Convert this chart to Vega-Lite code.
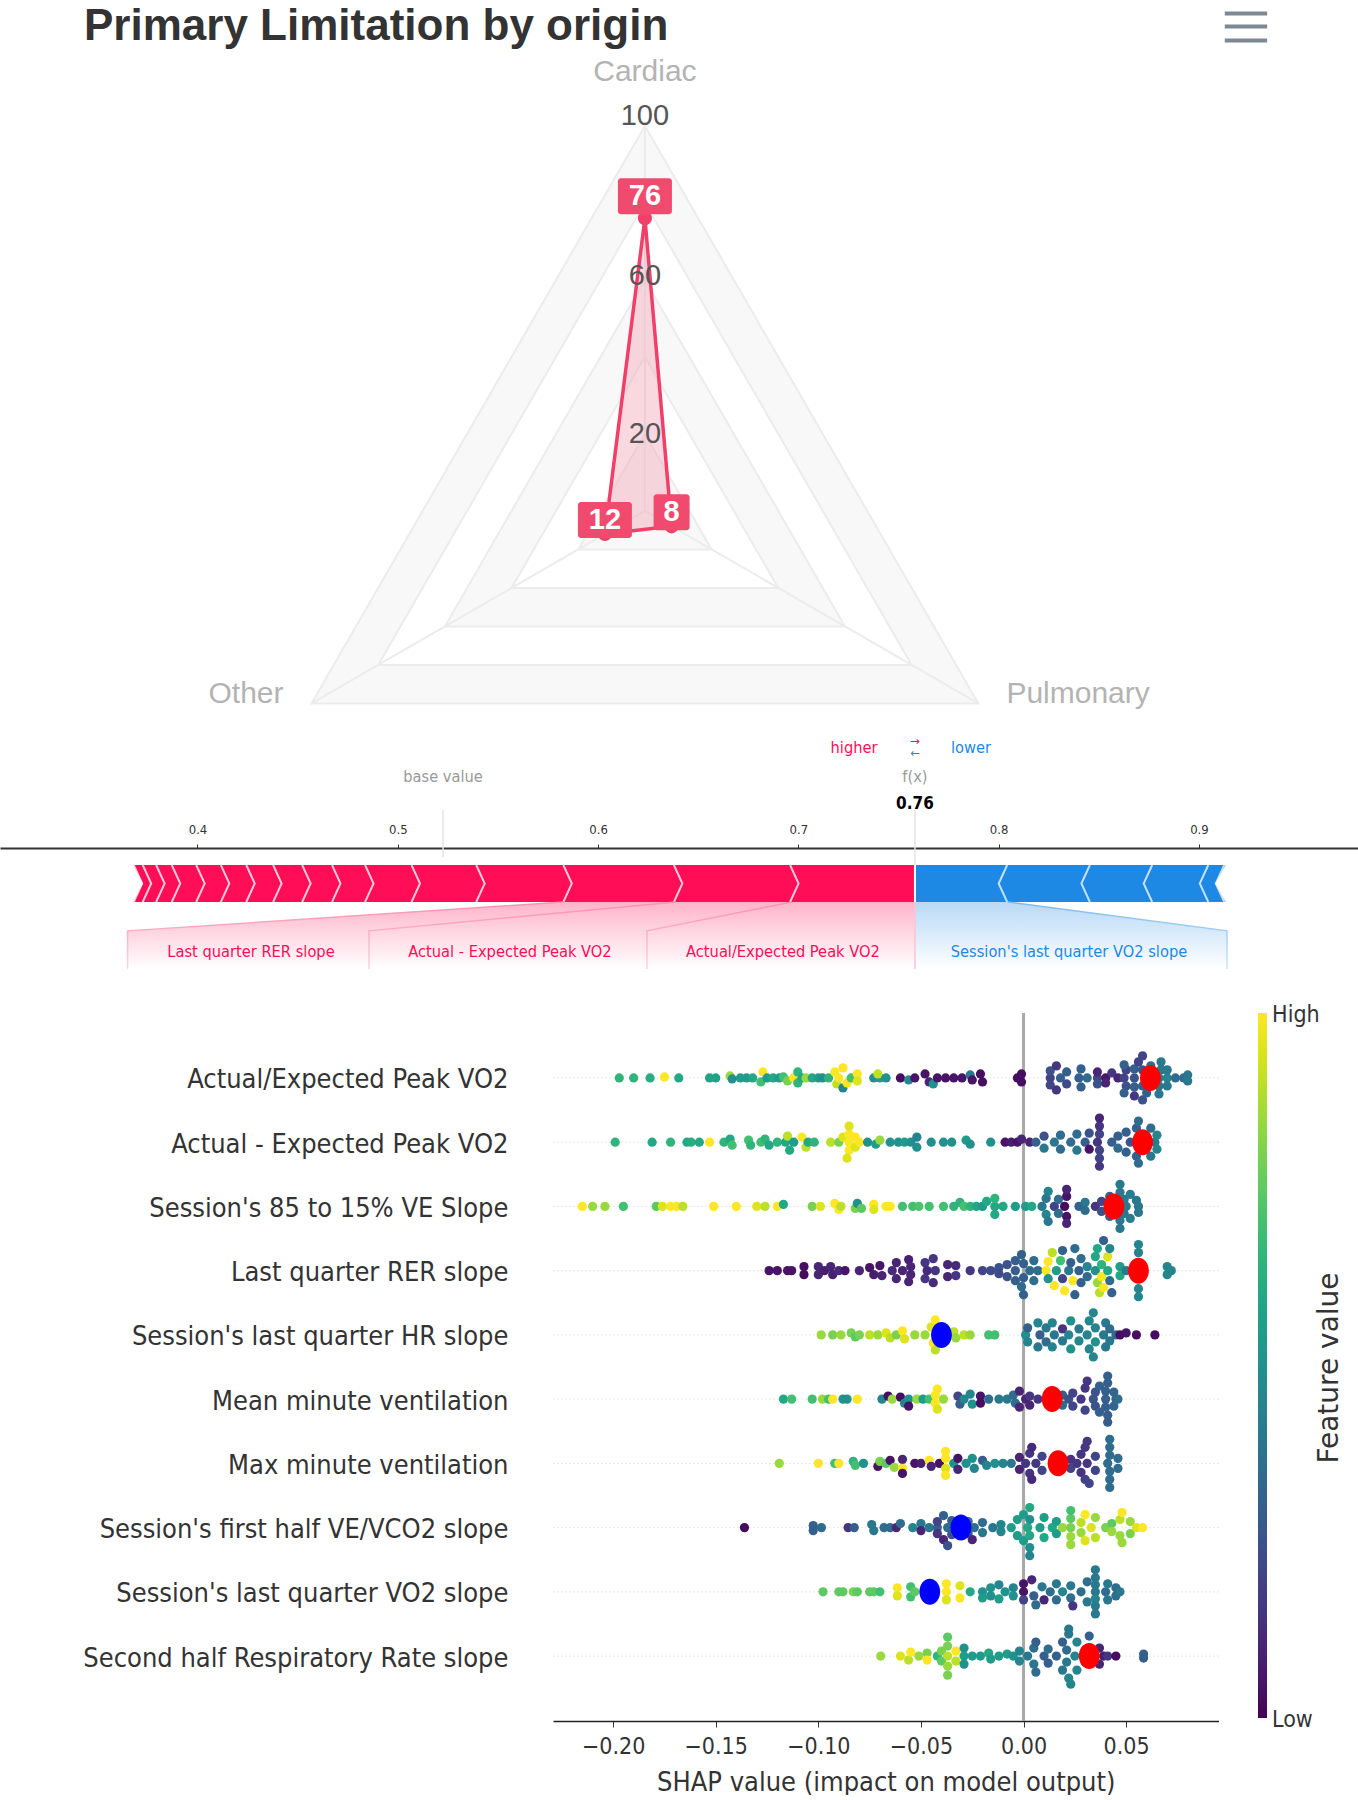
{"$schema":"https://vega.github.io/schema/vega-lite/v6.json","padding":0,"bounds":"flush","spacing":0,"background":"white","config":{"view":{"stroke":null}},
"vconcat":[
{"width":1358,"height":730,"title":{"text":"Primary Limitation by origin","anchor":"start","frame":"group","dx":84,"offset":-49,"fontSize":44,"font":"Liberation Sans","fontWeight":"bold","color":"#333333"},
"layer":[
{"data":{"values":[{"ring":100,"band":"a","angle":0},{"ring":100,"band":"a","angle":120},{"ring":100,"band":"a","angle":240},{"ring":80,"band":"b","angle":0},{"ring":80,"band":"b","angle":120},{"ring":80,"band":"b","angle":240},{"ring":60,"band":"a","angle":0},{"ring":60,"band":"a","angle":120},{"ring":60,"band":"a","angle":240},{"ring":40,"band":"b","angle":0},{"ring":40,"band":"b","angle":120},{"ring":40,"band":"b","angle":240},{"ring":20,"band":"a","angle":0},{"ring":20,"band":"a","angle":120},{"ring":20,"band":"a","angle":240}]},
"transform":[{"calculate":"datum.ring*sin(datum.angle*PI/180)","as":"x"},{"calculate":"datum.ring*cos(datum.angle*PI/180)","as":"y"}],
"mark":{"type":"line","interpolate":"linear-closed","stroke":"#ececec","strokeWidth":2},
"encoding":{"x":{"field":"x","type":"quantitative","scale":{"domain":[-167.5,185.2],"nice":false,"zero":false},"axis":null},"y":{"field":"y","type":"quantitative","scale":{"domain":[-56.9,132.7],"nice":false,"zero":false},"axis":null},"detail":{"field":"ring"},"order":{"field":"angle"},"fill":{"field":"band","type":"nominal","scale":{"domain":["a","b"],"range":["#f8f8f8","#ffffff"]},"legend":null}}},
{"data":{"values":[{"angle":0},{"angle":120},{"angle":240}]},
"transform":[{"calculate":"100*sin(datum.angle*PI/180)","as":"x"},{"calculate":"100*cos(datum.angle*PI/180)","as":"y"}],
"mark":{"type":"rule","stroke":"#ececec","strokeWidth":2},
"encoding":{"x":{"field":"x","type":"quantitative"},"y":{"field":"y","type":"quantitative"},"x2":{"datum":0},"y2":{"datum":0}}},
{"data":{"values":[{"axis":"Cardiac","angle":0,"value":76},{"axis":"Pulmonary","angle":120,"value":8},{"axis":"Other","angle":240,"value":12}]},
"transform":[{"calculate":"datum.value*sin(datum.angle*PI/180)","as":"x"},{"calculate":"datum.value*cos(datum.angle*PI/180)","as":"y"}],
"layer":[
{"mark":{"type":"line","interpolate":"linear-closed","stroke":"#f0406a","strokeWidth":3.5,"fill":"#f4a9bb","fillOpacity":0.45},"encoding":{"x":{"field":"x","type":"quantitative"},"y":{"field":"y","type":"quantitative"},"order":{"field":"angle"}}},
{"mark":{"type":"point","filled":true,"color":"#f0406a","size":200,"opacity":1},"encoding":{"x":{"field":"x","type":"quantitative"},"y":{"field":"y","type":"quantitative"}}},
{"transform":[{"filter":"datum.value==76"}],"mark":{"type":"rect","width":54,"height":36,"color":"#f04b6e","cornerRadius":3,"yOffset":-22},"encoding":{"x":{"field":"x","type":"quantitative"},"y":{"field":"y","type":"quantitative"}}},
{"transform":[{"filter":"datum.value==12"}],"mark":{"type":"rect","width":54,"height":36,"color":"#f04b6e","cornerRadius":3,"yOffset":-14},"encoding":{"x":{"field":"x","type":"quantitative"},"y":{"field":"y","type":"quantitative"}}},
{"transform":[{"filter":"datum.value==8"}],"mark":{"type":"rect","width":36,"height":36,"color":"#f04b6e","cornerRadius":3,"yOffset":-14},"encoding":{"x":{"field":"x","type":"quantitative"},"y":{"field":"y","type":"quantitative"}}},
{"transform":[{"filter":"datum.value==76"}],"mark":{"type":"text","font":"Liberation Sans","fontSize":29,"fontWeight":"bold","color":"white","dy":-22},"encoding":{"x":{"field":"x","type":"quantitative"},"y":{"field":"y","type":"quantitative"},"text":{"field":"value"}}},
{"transform":[{"filter":"datum.value<50"}],"mark":{"type":"text","font":"Liberation Sans","fontSize":29,"fontWeight":"bold","color":"white","dy":-14},"encoding":{"x":{"field":"x","type":"quantitative"},"y":{"field":"y","type":"quantitative"},"text":{"field":"value"}}}
]},
{"data":{"values":[{"tick":100}]},"mark":{"type":"text","font":"Liberation Sans","fontSize":29,"color":"#555555","dy":-9.5},"encoding":{"x":{"datum":0},"y":{"field":"tick","type":"quantitative"},"text":{"field":"tick"}}},
{"data":{"values":[{"tick":60}]},"mark":{"type":"text","font":"Liberation Sans","fontSize":29,"color":"#555555","dy":-3.7},"encoding":{"x":{"datum":0},"y":{"field":"tick","type":"quantitative"},"text":{"field":"tick"}}},
{"data":{"values":[{"tick":20}]},"mark":{"type":"text","font":"Liberation Sans","fontSize":29,"color":"#555555","dy":0},"encoding":{"x":{"datum":0},"y":{"field":"tick","type":"quantitative"},"text":{"field":"tick"}}},
{"data":{"values":[{"name":"Cardiac","xx":0,"yy":114},{"name":"Other","xx":-103.6,"yy":-47.6},{"name":"Pulmonary","xx":112.5,"yy":-47.6}]},"mark":{"type":"text","font":"Liberation Sans","fontSize":30,"color":"#b3b3b3"},"encoding":{"x":{"field":"xx","type":"quantitative"},"y":{"field":"yy","type":"quantitative"},"text":{"field":"name"}}},
{"data":{"values":[{"bar":129.2},{"bar":125.8},{"bar":122.2}]},"mark":{"type":"rule","stroke":"#7d8894","strokeWidth":4},"encoding":{"y":{"field":"bar","type":"quantitative"},"x":{"datum":150.6},"x2":{"datum":161.6}}}
]},
{"width":1358,"height":283,
"layer":[
{"data":{"values":[{"a":0.7582,"b":0.3676,"dir":"higher"},{"a":0.7582,"b":0.9135,"dir":"lower"}]},
"mark":{"type":"rect"},
"encoding":{"x":{"field":"a","type":"quantitative","scale":{"domain":[0.3014,0.9794],"nice":false,"zero":false},"axis":{"orient":"top","offset":-118,"values":[0.4,0.5,0.6,0.7,0.8,0.9],"format":".1f","title":null,"grid":false,"domainColor":"#333333","domainWidth":2,"tickColor":"#333333","tickSize":4,"labelFont":"DejaVu Sans Condensed","labelFontSize":13,"labelColor":"#333333","labelPadding":8}},"x2":{"field":"b"},"y":{"datum":1,"type":"quantitative","scale":{"domain":[-3,4.65],"nice":false,"zero":false},"axis":null},"y2":{"datum":0},"color":{"field":"dir","type":"nominal","scale":{"domain":["higher","lower","neutral"],"range":["#ff0d57","#1e88e5","#999999"]},"legend":null}}},
{"data":{"values":[{"tip":0.3724},{"tip":0.3769},{"tip":0.3836},{"tip":0.3914},{"tip":0.4036},{"tip":0.4159},{"tip":0.4286},{"tip":0.4420},{"tip":0.4565},{"tip":0.4714},{"tip":0.4879},{"tip":0.5111},{"tip":0.5434},{"tip":0.5869},{"tip":0.6421},{"tip":0.7001}]},
"mark":{"type":"point","shape":"M-0.46,-1L0,0L-0.46,1","size":1369,"filled":false,"stroke":"#ffc9d9","strokeWidth":2,"opacity":1},"encoding":{"x":{"field":"tip","type":"quantitative"},"y":{"datum":0.5}}},
{"data":{"values":[{"tip":0.8000},{"tip":0.8413},{"tip":0.8724},{"tip":0.9004},{"tip":0.9084}]},
"mark":{"type":"point","shape":"M0.46,-1L0,0L0.46,1","size":1369,"filled":false,"stroke":"#c5e0f8","strokeWidth":2,"opacity":1},"encoding":{"x":{"field":"tip","type":"quantitative"},"y":{"datum":0.5}}},
{"data":{"values":[{"e":"l","i":0,"x":0.3676,"y":1},{"e":"l","i":1,"x":0.3724,"y":0.5},{"e":"l","i":2,"x":0.3676,"y":0},{"e":"r","i":0,"x":0.9136,"y":1},{"e":"r","i":1,"x":0.9084,"y":0.5},{"e":"r","i":2,"x":0.9136,"y":0}]},
"mark":{"type":"line","interpolate":"linear-closed","fill":"#ffffff","stroke":"#ffffff","strokeWidth":1},"encoding":{"x":{"field":"x","type":"quantitative"},"y":{"field":"y","type":"quantitative"},"detail":{"field":"e"},"order":{"field":"i"}}},
{"data":{"values":[{"k":"a","i":0,"x":0.3651,"y":-0.78},{"k":"a","i":1,"x":0.5830,"y":0},{"k":"a","i":2,"x":0.6388,"y":0},{"k":"a","i":3,"x":0.4856,"y":-0.78},{"k":"a","i":4,"x":0.4856,"y":-1.81},{"k":"a","i":5,"x":0.3651,"y":-1.81},
{"k":"b","i":0,"x":0.4856,"y":-0.78},{"k":"b","i":1,"x":0.6388,"y":0},{"k":"b","i":2,"x":0.6968,"y":0},{"k":"b","i":3,"x":0.6244,"y":-0.78},{"k":"b","i":4,"x":0.6244,"y":-1.81},{"k":"b","i":5,"x":0.4856,"y":-1.81},
{"k":"c","i":0,"x":0.6244,"y":-0.78},{"k":"c","i":1,"x":0.6968,"y":0},{"k":"c","i":2,"x":0.7582,"y":0},{"k":"c","i":3,"x":0.7582,"y":-1.81},{"k":"c","i":4,"x":0.6244,"y":-1.81}]},
"mark":{"type":"line","interpolate":"linear-closed","stroke":"transparent","strokeWidth":0,"fill":{"x1":0,"y1":0,"x2":0,"y2":1,"gradient":"linear","stops":[{"offset":0,"color":"#ffb4ca"},{"offset":1,"color":"#ffffff"}]}},"encoding":{"x":{"field":"x","type":"quantitative"},"y":{"field":"y","type":"quantitative"},"detail":{"field":"k"},"order":{"field":"i"}}},
{"data":{"values":[{"i":0,"x":0.7582,"y":0},{"i":1,"x":0.8046,"y":0},{"i":2,"x":0.9140,"y":-0.78},{"i":3,"x":0.9140,"y":-1.81},{"i":4,"x":0.7582,"y":-1.81}]},
"mark":{"type":"line","interpolate":"linear-closed","stroke":"transparent","strokeWidth":0,"fill":{"x1":0,"y1":0,"x2":0,"y2":1,"gradient":"linear","stops":[{"offset":0,"color":"#b8d9f6"},{"offset":1,"color":"#ffffff"}]}},"encoding":{"x":{"field":"x","type":"quantitative"},"y":{"field":"y","type":"quantitative"},"order":{"field":"i"}}},
{"data":{"values":[{"k":"a","i":0,"x":0.3651,"y":-1.81},{"k":"a","i":1,"x":0.3651,"y":-0.78},{"k":"a","i":2,"x":0.5830,"y":0},{"k":"b","i":0,"x":0.4856,"y":-1.81},{"k":"b","i":1,"x":0.4856,"y":-0.78},{"k":"b","i":2,"x":0.6388,"y":0},{"k":"c","i":0,"x":0.6244,"y":-1.81},{"k":"c","i":1,"x":0.6244,"y":-0.78},{"k":"c","i":2,"x":0.6968,"y":0}]},
"mark":{"type":"line","strokeWidth":1.5,"stroke":{"x1":0,"y1":0,"x2":0,"y2":1,"gradient":"linear","stops":[{"offset":0,"color":"#ff8fae"},{"offset":1,"color":"#ffd5e0"}]}},"encoding":{"x":{"field":"x","type":"quantitative"},"y":{"field":"y","type":"quantitative"},"detail":{"field":"k"},"order":{"field":"i"}}},
{"data":{"values":[{"i":0,"x":0.9140,"y":-1.81},{"i":1,"x":0.9140,"y":-0.78},{"i":2,"x":0.8046,"y":0}]},
"mark":{"type":"line","strokeWidth":1.5,"stroke":{"x1":0,"y1":0,"x2":0,"y2":1,"gradient":"linear","stops":[{"offset":0,"color":"#7db9ef"},{"offset":1,"color":"#cfe5f9"}]}},"encoding":{"x":{"field":"x","type":"quantitative"},"y":{"field":"y","type":"quantitative"},"order":{"field":"i"}}},
{"data":{"values":[{"x":0.5226,"y":2.49,"y2":1.22},{"x":0.7582,"y":2.49,"y2":1}]},"mark":{"type":"rule","stroke":"#e4e4e4","strokeWidth":1.5},"encoding":{"x":{"field":"x","type":"quantitative"},"y":{"field":"y","type":"quantitative"},"y2":{"field":"y2"}}},
{"data":{"values":[{"x":0.7582,"y":1,"y2":0}]},"mark":{"type":"rule","stroke":"#ffffff","strokeWidth":2},"encoding":{"x":{"field":"x","type":"quantitative"},"y":{"field":"y","type":"quantitative"},"y2":{"field":"y2"}}},
{"data":{"values":[{"x":0.7582,"y":0,"y2":-1.81}]},"mark":{"type":"rule","stroke":"#ffc2d3","strokeWidth":1.5},"encoding":{"x":{"field":"x","type":"quantitative"},"y":{"field":"y","type":"quantitative"},"y2":{"field":"y2"}}},
{"data":{"values":[{"t":"Last quarter RER slope","x":0.4267,"y":-1.35,"dir":"higher"},{"t":"Actual - Expected Peak VO2","x":0.5560,"y":-1.35,"dir":"higher"},{"t":"Actual/Expected Peak VO2","x":0.6923,"y":-1.35,"dir":"higher"},{"t":"Session's last quarter VO2 slope","x":0.8351,"y":-1.35,"dir":"lower"},{"t":"higher","x":0.7278,"y":4.16,"dir":"higher"},{"t":"lower","x":0.7862,"y":4.16,"dir":"lower"},{"t":"base value","x":0.5226,"y":3.38,"dir":"neutral"},{"t":"f(x)","x":0.7582,"y":3.38,"dir":"neutral"}]},
"mark":{"type":"text","font":"DejaVu Sans Condensed","fontSize":16.3},"encoding":{"x":{"field":"x","type":"quantitative"},"y":{"field":"y","type":"quantitative"},"text":{"field":"t"},"color":{"field":"dir","type":"nominal"}}},
{"data":{"values":[{"t":"0.76","x":0.7582,"y":2.65}]},"mark":{"type":"text","font":"DejaVu Sans Condensed","fontSize":17,"fontWeight":"bold","color":"#000000"},"encoding":{"x":{"field":"x","type":"quantitative"},"y":{"field":"y","type":"quantitative"},"text":{"field":"t"}}},
{"data":{"values":[{"t":"→","x":0.7582,"y":4.33,"dir":"higher"},{"t":"←","x":0.7582,"y":4.0,"dir":"lower"}]},"mark":{"type":"text","font":"DejaVu Sans","fontSize":11.5},"encoding":{"x":{"field":"x","type":"quantitative"},"y":{"field":"y","type":"quantitative"},"text":{"field":"t"},"color":{"field":"dir","type":"nominal"}}}
]},
{"bounds":"flush","spacing":0,"hconcat":[
{"width":553,"height":708,"data":{"values":[]},"mark":{"type":"text"},"encoding":{}},
{"width":665.5,"height":708,
"layer":[
{"data":{"values":[{"f":"Actual/Expected Peak VO2"},{"f":"Actual - Expected Peak VO2"},{"f":"Session's 85 to 15% VE Slope"},{"f":"Last quarter RER slope"},{"f":"Session's last quarter HR slope"},{"f":"Mean minute ventilation"},{"f":"Max minute ventilation"},{"f":"Session's first half VE/VCO2 slope"},{"f":"Session's last quarter VO2 slope"},{"f":"Second half Respiratory Rate slope"}]},
"mark":{"type":"rule","stroke":"#cfcfcf","strokeDash":[1,3],"strokeWidth":1},
"encoding":{"y":{"field":"f","type":"nominal","sort":null,"scale":{"paddingInner":0,"paddingOuter":0.51},"axis":{"title":null,"domain":false,"ticks":false,"labelFont":"DejaVu Sans Condensed","labelFontSize":27,"labelColor":"#333333","labelPadding":45,"labelLimit":0,"labelOffset":2.5}}}},
{"data":{"values":[{"z":0}]},"mark":{"type":"rule","stroke":"#a8a8a8","strokeWidth":3},
"encoding":{"x":{"field":"z","type":"quantitative","scale":{"domain":[-0.2293,0.095],"nice":false,"zero":false},"axis":{"values":[-0.2,-0.15,-0.1,-0.05,0,0.05],"labelExpr":"replace(format(datum.value,'.2f'),'-','−')","title":"SHAP value (impact on model output)","titleFont":"DejaVu Sans Condensed","titleFontSize":27,"titleFontWeight":"normal","titleColor":"#333333","titlePadding":11,"labelFont":"DejaVu Sans Condensed","labelFontSize":23,"labelColor":"#333333","labelPadding":8,"grid":false,"tickSize":6,"tickColor":"#333333","domainColor":"#222222","domainWidth":1.5}}}},
{"data":{"values":[
{"r":0,"s":-0.197,"j":0,"c":0.65},{"r":0,"s":-0.19,"j":0,"c":0.65},{"r":0,"s":-0.182,"j":0,"c":0.62},{"r":0,"s":-0.175,"j":-1,"c":1},{"r":0,"s":-0.168,"j":0,"c":0.6},{"r":0,"s":-0.153,"j":0,"c":0.58},{"r":0,"s":-0.15,"j":0,"c":0.58},{"r":0,"s":-0.143,"j":-2,"c":0.85},{"r":0,"s":-0.142,"j":1,"c":0.5},{"r":0,"s":-0.138,"j":0,"c":0.55},{"r":0,"s":-0.135,"j":0,"c":0.55},{"r":0,"s":-0.132,"j":0,"c":0.6},{"r":0,"s":-0.128,"j":4,"c":0.7},{"r":0,"s":-0.127,"j":-6,"c":1},{"r":0,"s":-0.125,"j":0,"c":0.55},{"r":0,"s":-0.122,"j":0,"c":0.6},{"r":0,"s":-0.119,"j":0,"c":0.55},{"r":0,"s":-0.117,"j":-1,"c":0.7},{"r":0,"s":-0.115,"j":3,"c":0.8},{"r":0,"s":-0.112,"j":0,"c":1},{"r":0,"s":-0.11,"j":-6,"c":0.65},{"r":0,"s":-0.11,"j":5,"c":0.65},{"r":0,"s":-0.108,"j":0,"c":0.6},{"r":0,"s":-0.106,"j":0,"c":0.85},{"r":0,"s":-0.103,"j":0,"c":0.6},{"r":0,"s":-0.1,"j":0,"c":0.55},{"r":0,"s":-0.098,"j":0,"c":0.5},{"r":0,"s":-0.095,"j":0,"c":0.65},{"r":0,"s":-0.092,"j":-6,"c":1},{"r":0,"s":-0.091,"j":6,"c":0.9},{"r":0,"s":-0.09,"j":0,"c":1},{"r":0,"s":-0.088,"j":-10,"c":1},{"r":0,"s":-0.088,"j":10,"c":0.45},{"r":0,"s":-0.086,"j":5,"c":1},{"r":0,"s":-0.084,"j":0,"c":0.7},{"r":0,"s":-0.081,"j":-4,"c":1},{"r":0,"s":-0.081,"j":3,"c":0.95},{"r":0,"s":-0.073,"j":0,"c":0.5},{"r":0,"s":-0.07,"j":0,"c":0.55},{"r":0,"s":-0.071,"j":-4,"c":0.9},{"r":0,"s":-0.067,"j":0,"c":0.5},{"r":0,"s":-0.06,"j":0,"c":0.03},{"r":0,"s":-0.056,"j":2,"c":0.45},{"r":0,"s":-0.053,"j":0,"c":0.05},{"r":0,"s":-0.048,"j":-4,"c":0.05},{"r":0,"s":-0.046,"j":4,"c":0.1},{"r":0,"s":-0.044,"j":6,"c":0.5},{"r":0,"s":-0.042,"j":0,"c":0.05},{"r":0,"s":-0.038,"j":0,"c":0.05},{"r":0,"s":-0.034,"j":0,"c":0.05},{"r":0,"s":-0.03,"j":0,"c":0.05},{"r":0,"s":-0.026,"j":-3,"c":0.4},{"r":0,"s":-0.025,"j":2,"c":0.05},{"r":0,"s":-0.021,"j":-4,"c":0.03},{"r":0,"s":-0.02,"j":4,"c":0.03},{"r":0,"s":-0.003,"j":0,"c":0.03},{"r":0,"s":-0.001,"j":-4,"c":0.03},{"r":0,"s":-0.001,"j":4,"c":0.03},
{"r":0,"s":0.013,"j":0,"c":0.2},{"r":0,"s":0.013,"j":-7,"c":0.25},{"r":0,"s":0.013,"j":7,"c":0.2},{"r":0,"s":0.016,"j":-12,"c":0.15},{"r":0,"s":0.016,"j":12,"c":0.15},{"r":0,"s":0.018,"j":0,"c":0.3},{"r":0,"s":0.021,"j":-6,"c":0.3},{"r":0,"s":0.021,"j":6,"c":0.22},{"r":0,"s":0.027,"j":0,"c":0.3},{"r":0,"s":0.028,"j":-9,"c":0.3},{"r":0,"s":0.028,"j":9,"c":0.3},{"r":0,"s":0.031,"j":0,"c":0.35},{"r":0,"s":0.036,"j":0,"c":0.2},{"r":0,"s":0.036,"j":-6,"c":0.1},{"r":0,"s":0.036,"j":6,"c":0.25},{"r":0,"s":0.04,"j":0,"c":0.05},{"r":0,"s":0.04,"j":5,"c":0.1},{"r":0,"s":0.043,"j":-5,"c":0.15},{"r":0,"s":0.046,"j":0,"c":0.1},{"r":0,"s":0.049,"j":0,"c":0.2},{"r":0,"s":0.05,"j":-8,"c":0.2},{"r":0,"s":0.05,"j":8,"c":0.25},{"r":0,"s":0.049,"j":15,"c":0.3},{"r":0,"s":0.049,"j":-13,"c":0.3},{"r":0,"s":0.054,"j":0,"c":0.25},{"r":0,"s":0.054,"j":-9,"c":0.3},{"r":0,"s":0.054,"j":9,"c":0.3},{"r":0,"s":0.054,"j":18,"c":0.15},{"r":0,"s":0.056,"j":-16,"c":0.2},{"r":0,"s":0.058,"j":-22,"c":0.2},{"r":0,"s":0.058,"j":22,"c":0.25},{"r":0,"s":0.058,"j":-8,"c":0.25},{"r":0,"s":0.058,"j":8,"c":0.3},{"r":0,"s":0.06,"j":15,"c":0.3},{"r":0,"s":0.062,"j":-12,"c":0.35},{"r":0,"s":0.066,"j":0,"c":0.4},{"r":0,"s":0.066,"j":8,"c":0.4},{"r":0,"s":0.066,"j":16,"c":0.4},{"r":0,"s":0.067,"j":-16,"c":0.4},{"r":0,"s":0.067,"j":-8,"c":0.4},{"r":0,"s":0.07,"j":0,"c":0.45},{"r":0,"s":0.07,"j":-8,"c":0.4},{"r":0,"s":0.07,"j":8,"c":0.4},{"r":0,"s":0.074,"j":0,"c":0.35},{"r":0,"s":0.078,"j":0,"c":0.35},{"r":0,"s":0.08,"j":-3,"c":0.4},{"r":0,"s":0.08,"j":3,"c":0.4},
{"r":1,"s":-0.199,"j":0,"c":0.65},{"r":1,"s":-0.181,"j":0,"c":0.6},{"r":1,"s":-0.172,"j":0,"c":0.65},{"r":1,"s":-0.164,"j":0,"c":0.6},{"r":1,"s":-0.162,"j":0,"c":0.62},{"r":1,"s":-0.158,"j":0,"c":0.6},{"r":1,"s":-0.153,"j":0,"c":1},{"r":1,"s":-0.146,"j":0,"c":0.65},{"r":1,"s":-0.143,"j":-3,"c":0.6},{"r":1,"s":-0.142,"j":3,"c":0.7},{"r":1,"s":-0.134,"j":-2,"c":0.7},{"r":1,"s":-0.133,"j":3,"c":0.65},{"r":1,"s":-0.128,"j":0,"c":0.7},{"r":1,"s":-0.126,"j":-3,"c":0.65},{"r":1,"s":-0.124,"j":3,"c":0.6},{"r":1,"s":-0.12,"j":0,"c":0.65},{"r":1,"s":-0.116,"j":0,"c":0.6},{"r":1,"s":-0.115,"j":-6,"c":0.9},{"r":1,"s":-0.114,"j":8,"c":0.6},{"r":1,"s":-0.112,"j":0,"c":0.55},{"r":1,"s":-0.108,"j":-5,"c":1},{"r":1,"s":-0.106,"j":5,"c":0.9},{"r":1,"s":-0.105,"j":0,"c":0.6},{"r":1,"s":-0.102,"j":0,"c":0.65},{"r":1,"s":-0.094,"j":0,"c":0.9},{"r":1,"s":-0.09,"j":0,"c":0.8},{"r":1,"s":-0.088,"j":-5,"c":0.95},{"r":1,"s":-0.085,"j":0,"c":1},{"r":1,"s":-0.085,"j":-8,"c":1},{"r":1,"s":-0.085,"j":8,"c":1},{"r":1,"s":-0.085,"j":-16,"c":0.95},{"r":1,"s":-0.086,"j":16,"c":0.95},{"r":1,"s":-0.082,"j":-5,"c":1},{"r":1,"s":-0.082,"j":5,"c":0.95},{"r":1,"s":-0.08,"j":0,"c":1},{"r":1,"s":-0.076,"j":0,"c":0.5},{"r":1,"s":-0.072,"j":2,"c":0.55},{"r":1,"s":-0.07,"j":-2,"c":0.85},{"r":1,"s":-0.065,"j":0,"c":0.5},{"r":1,"s":-0.061,"j":0,"c":0.5},{"r":1,"s":-0.058,"j":0,"c":0.55},{"r":1,"s":-0.055,"j":0,"c":0.5},{"r":1,"s":-0.052,"j":-5,"c":0.45},{"r":1,"s":-0.052,"j":5,"c":0.5},{"r":1,"s":-0.045,"j":0,"c":0.5},{"r":1,"s":-0.039,"j":0,"c":0.5},{"r":1,"s":-0.035,"j":0,"c":0.5},{"r":1,"s":-0.028,"j":-2,"c":0.55},{"r":1,"s":-0.026,"j":2,"c":0.5},{"r":1,"s":-0.016,"j":0,"c":0.5},{"r":1,"s":-0.009,"j":0,"c":0.05},{"r":1,"s":-0.006,"j":0,"c":0.08},{"r":1,"s":-0.003,"j":0,"c":0.05},{"r":1,"s":-0.001,"j":-3,"c":0.1},{"r":1,"s":0.003,"j":0,"c":0.1},
{"r":1,"s":0.006,"j":0,"c":0.3},{"r":1,"s":0.01,"j":-6,"c":0.25},{"r":1,"s":0.01,"j":6,"c":0.4},{"r":1,"s":0.015,"j":0,"c":0.4},{"r":1,"s":0.018,"j":-7,"c":0.35},{"r":1,"s":0.018,"j":7,"c":0.35},{"r":1,"s":0.023,"j":0,"c":0.35},{"r":1,"s":0.026,"j":-8,"c":0.35},{"r":1,"s":0.026,"j":8,"c":0.4},{"r":1,"s":0.03,"j":0,"c":0.3},{"r":1,"s":0.032,"j":-9,"c":0.25},{"r":1,"s":0.032,"j":7,"c":0.05},{"r":1,"s":0.036,"j":0,"c":0.15},{"r":1,"s":0.037,"j":-8,"c":0.2},{"r":1,"s":0.037,"j":8,"c":0.2},{"r":1,"s":0.037,"j":-16,"c":0.15},{"r":1,"s":0.037,"j":16,"c":0.2},{"r":1,"s":0.037,"j":-24,"c":0.1},{"r":1,"s":0.037,"j":24,"c":0.15},{"r":1,"s":0.043,"j":0,"c":0.3},{"r":1,"s":0.046,"j":-6,"c":0.3},{"r":1,"s":0.046,"j":6,"c":0.35},{"r":1,"s":0.05,"j":-10,"c":0.3},{"r":1,"s":0.05,"j":10,"c":0.3},{"r":1,"s":0.052,"j":0,"c":0.25},{"r":1,"s":0.055,"j":-14,"c":0.3},{"r":1,"s":0.055,"j":14,"c":0.3},{"r":1,"s":0.056,"j":-21,"c":0.35},{"r":1,"s":0.056,"j":21,"c":0.35},{"r":1,"s":0.062,"j":-14,"c":0.35},{"r":1,"s":0.062,"j":14,"c":0.4},{"r":1,"s":0.064,"j":0,"c":0.4},{"r":1,"s":0.065,"j":-7,"c":0.45},{"r":1,"s":0.065,"j":7,"c":0.45},
{"r":2,"s":-0.215,"j":0,"c":1},{"r":2,"s":-0.21,"j":0,"c":0.85},{"r":2,"s":-0.204,"j":0,"c":0.85},{"r":2,"s":-0.195,"j":0,"c":0.7},{"r":2,"s":-0.179,"j":0,"c":0.75},{"r":2,"s":-0.176,"j":0,"c":0.95},{"r":2,"s":-0.172,"j":0,"c":1},{"r":2,"s":-0.169,"j":0,"c":1},{"r":2,"s":-0.166,"j":0,"c":0.9},{"r":2,"s":-0.151,"j":0,"c":1},{"r":2,"s":-0.14,"j":0,"c":1},{"r":2,"s":-0.13,"j":0,"c":0.95},{"r":2,"s":-0.126,"j":0,"c":0.9},{"r":2,"s":-0.12,"j":0,"c":1},{"r":2,"s":-0.117,"j":-2,"c":0.6},{"r":2,"s":-0.103,"j":0,"c":0.8},{"r":2,"s":-0.099,"j":0,"c":0.95},{"r":2,"s":-0.092,"j":-3,"c":1},{"r":2,"s":-0.09,"j":3,"c":1},{"r":2,"s":-0.089,"j":0,"c":0.9},{"r":2,"s":-0.082,"j":2,"c":0.8},{"r":2,"s":-0.081,"j":-3,"c":0.5},{"r":2,"s":-0.079,"j":2,"c":0.75},{"r":2,"s":-0.073,"j":-2,"c":1},{"r":2,"s":-0.073,"j":3,"c":0.95},{"r":2,"s":-0.067,"j":0,"c":1},{"r":2,"s":-0.065,"j":0,"c":1},{"r":2,"s":-0.059,"j":0,"c":0.7},{"r":2,"s":-0.054,"j":0,"c":0.7},{"r":2,"s":-0.051,"j":0,"c":0.72},{"r":2,"s":-0.046,"j":0,"c":0.7},{"r":2,"s":-0.039,"j":0,"c":0.7},{"r":2,"s":-0.034,"j":0,"c":0.65},{"r":2,"s":-0.031,"j":-4,"c":0.65},{"r":2,"s":-0.029,"j":0,"c":0.7},{"r":2,"s":-0.026,"j":0,"c":0.65},{"r":2,"s":-0.023,"j":0,"c":0.6},{"r":2,"s":-0.02,"j":0,"c":0.55},{"r":2,"s":-0.018,"j":-5,"c":0.6},{"r":2,"s":-0.014,"j":0,"c":0.6},{"r":2,"s":-0.014,"j":-8,"c":0.65},{"r":2,"s":-0.014,"j":8,"c":0.6},{"r":2,"s":-0.01,"j":0,"c":0.6},{"r":2,"s":-0.004,"j":0,"c":0.55},{"r":2,"s":0.001,"j":0,"c":0.55},{"r":2,"s":0.004,"j":0,"c":0.6},
{"r":2,"s":0.009,"j":0,"c":0.4},{"r":2,"s":0.011,"j":-8,"c":0.4},{"r":2,"s":0.011,"j":8,"c":0.45},{"r":2,"s":0.012,"j":-15,"c":0.45},{"r":2,"s":0.012,"j":15,"c":0.4},{"r":2,"s":0.015,"j":0,"c":0.2},{"r":2,"s":0.017,"j":-7,"c":0.35},{"r":2,"s":0.017,"j":7,"c":0.35},{"r":2,"s":0.02,"j":0,"c":0.03},{"r":2,"s":0.021,"j":-10,"c":0.05},{"r":2,"s":0.021,"j":10,"c":0.05},{"r":2,"s":0.021,"j":-17,"c":0.1},{"r":2,"s":0.021,"j":17,"c":0.1},{"r":2,"s":0.027,"j":0,"c":0.3},{"r":2,"s":0.03,"j":-4,"c":0.4},{"r":2,"s":0.03,"j":4,"c":0.35},{"r":2,"s":0.035,"j":0,"c":0.15},{"r":2,"s":0.038,"j":-5,"c":0.2},{"r":2,"s":0.038,"j":5,"c":0.25},{"r":2,"s":0.042,"j":-10,"c":0.3},{"r":2,"s":0.042,"j":10,"c":0.3},{"r":2,"s":0.047,"j":-22,"c":0.4},{"r":2,"s":0.047,"j":22,"c":0.4},{"r":2,"s":0.047,"j":-14,"c":0.4},{"r":2,"s":0.047,"j":14,"c":0.4},{"r":2,"s":0.049,"j":-7,"c":0.4},{"r":2,"s":0.049,"j":7,"c":0.4},{"r":2,"s":0.05,"j":0,"c":0.4},{"r":2,"s":0.052,"j":-12,"c":0.42},{"r":2,"s":0.052,"j":12,"c":0.42},{"r":2,"s":0.055,"j":-6,"c":0.4},{"r":2,"s":0.056,"j":0,"c":0.4},{"r":2,"s":0.056,"j":6,"c":0.4},
{"r":3,"s":-0.124,"j":0,"c":0.05},{"r":3,"s":-0.12,"j":0,"c":0.05},{"r":3,"s":-0.115,"j":0,"c":0.05},{"r":3,"s":-0.113,"j":0,"c":0.05},{"r":3,"s":-0.107,"j":-4,"c":0.03},{"r":3,"s":-0.107,"j":4,"c":0.03},{"r":3,"s":-0.1,"j":-4,"c":0.1},{"r":3,"s":-0.1,"j":4,"c":0.1},{"r":3,"s":-0.097,"j":0,"c":0.08},{"r":3,"s":-0.094,"j":-4,"c":0.1},{"r":3,"s":-0.093,"j":4,"c":0.08},{"r":3,"s":-0.09,"j":0,"c":0.12},{"r":3,"s":-0.087,"j":0,"c":0.05},{"r":3,"s":-0.08,"j":0,"c":0.1},{"r":3,"s":-0.075,"j":-3,"c":0.05},{"r":3,"s":-0.073,"j":4,"c":0.08},{"r":3,"s":-0.07,"j":-5,"c":0.05},{"r":3,"s":-0.069,"j":5,"c":0.1},{"r":3,"s":-0.064,"j":0,"c":0.12},{"r":3,"s":-0.062,"j":-8,"c":0.1},{"r":3,"s":-0.062,"j":8,"c":0.1},{"r":3,"s":-0.059,"j":0,"c":0.1},{"r":3,"s":-0.056,"j":-11,"c":0.08},{"r":3,"s":-0.056,"j":11,"c":0.1},{"r":3,"s":-0.055,"j":-4,"c":0.1},{"r":3,"s":-0.055,"j":4,"c":0.1},{"r":3,"s":-0.048,"j":-8,"c":0.15},{"r":3,"s":-0.048,"j":8,"c":0.15},{"r":3,"s":-0.047,"j":0,"c":0.12},{"r":3,"s":-0.044,"j":-12,"c":0.15},{"r":3,"s":-0.044,"j":12,"c":0.12},{"r":3,"s":-0.043,"j":0,"c":0.15},{"r":3,"s":-0.037,"j":-6,"c":0.1},{"r":3,"s":-0.037,"j":6,"c":0.1},{"r":3,"s":-0.033,"j":-5,"c":0.12},{"r":3,"s":-0.033,"j":5,"c":0.15},{"r":3,"s":-0.026,"j":0,"c":0.15},{"r":3,"s":-0.02,"j":0,"c":0.2},{"r":3,"s":-0.016,"j":0,"c":0.22},{"r":3,"s":-0.012,"j":-3,"c":0.25},{"r":3,"s":-0.012,"j":3,"c":0.22},{"r":3,"s":-0.008,"j":-6,"c":0.25},{"r":3,"s":-0.008,"j":6,"c":0.25},{"r":3,"s":-0.004,"j":0,"c":0.3},{"r":3,"s":-0.004,"j":-10,"c":0.3},{"r":3,"s":-0.004,"j":10,"c":0.3},{"r":3,"s":-0.001,"j":-16,"c":0.3},{"r":3,"s":-0.001,"j":16,"c":0.35},{"r":3,"s":0,"j":-7,"c":0.3},{"r":3,"s":0,"j":7,"c":0.3},{"r":3,"s":0,"j":24,"c":0.3},{"r":3,"s":0.003,"j":0,"c":0.35},{"r":3,"s":0.005,"j":-10,"c":0.35},{"r":3,"s":0.005,"j":10,"c":0.35},{"r":3,"s":0.007,"j":0,"c":0.35},
{"r":3,"s":0.011,"j":0,"c":1},{"r":3,"s":0.012,"j":-9,"c":1},{"r":3,"s":0.012,"j":8,"c":0.5},{"r":3,"s":0.014,"j":-18,"c":0.9},{"r":3,"s":0.015,"j":15,"c":1},{"r":3,"s":0.016,"j":0,"c":0.55},{"r":3,"s":0.018,"j":-10,"c":0.7},{"r":3,"s":0.019,"j":8,"c":0.2},{"r":3,"s":0.019,"j":-20,"c":0.3},{"r":3,"s":0.02,"j":20,"c":1},{"r":3,"s":0.022,"j":0,"c":0.4},{"r":3,"s":0.023,"j":-8,"c":0.3},{"r":3,"s":0.024,"j":10,"c":1},{"r":3,"s":0.025,"j":-22,"c":0.35},{"r":3,"s":0.025,"j":24,"c":0.3},{"r":3,"s":0.027,"j":0,"c":0.3},{"r":3,"s":0.028,"j":-12,"c":0.35},{"r":3,"s":0.028,"j":12,"c":0.3},{"r":3,"s":0.031,"j":-4,"c":0.45},{"r":3,"s":0.031,"j":6,"c":0.35},{"r":3,"s":0.035,"j":0,"c":0.5},{"r":3,"s":0.035,"j":-14,"c":0.6},{"r":3,"s":0.036,"j":12,"c":0.85},{"r":3,"s":0.036,"j":-22,"c":0.6},{"r":3,"s":0.037,"j":22,"c":0.9},{"r":3,"s":0.038,"j":-6,"c":0.65},{"r":3,"s":0.038,"j":6,"c":1},{"r":3,"s":0.039,"j":-30,"c":0.3},{"r":3,"s":0.039,"j":17,"c":1},{"r":3,"s":0.041,"j":-14,"c":0.95},{"r":3,"s":0.041,"j":0,"c":0.6},{"r":3,"s":0.042,"j":10,"c":0.35},{"r":3,"s":0.042,"j":-22,"c":0.45},{"r":3,"s":0.043,"j":22,"c":0.3},{"r":3,"s":0.047,"j":-4,"c":0.55},{"r":3,"s":0.047,"j":5,"c":0.6},{"r":3,"s":0.05,"j":0,"c":0.4},{"r":3,"s":0.056,"j":-18,"c":0.45},{"r":3,"s":0.056,"j":-26,"c":0.45},{"r":3,"s":0.056,"j":18,"c":0.45},{"r":3,"s":0.056,"j":26,"c":0.45},{"r":3,"s":0.07,"j":-4,"c":0.45},{"r":3,"s":0.07,"j":4,"c":0.45},{"r":3,"s":0.072,"j":0,"c":0.45},
{"r":4,"s":-0.0986,"j":0,"c":0.85},{"r":4,"s":-0.093,"j":0,"c":0.8},{"r":4,"s":-0.089,"j":0,"c":0.85},{"r":4,"s":-0.084,"j":-2,"c":0.8},{"r":4,"s":-0.082,"j":2,"c":0.75},{"r":4,"s":-0.08,"j":0,"c":0.8},{"r":4,"s":-0.075,"j":0,"c":0.9},{"r":4,"s":-0.071,"j":0,"c":0.85},{"r":4,"s":-0.067,"j":-2,"c":0.95},{"r":4,"s":-0.065,"j":3,"c":0.9},{"r":4,"s":-0.062,"j":0,"c":0.8},{"r":4,"s":-0.059,"j":-4,"c":1},{"r":4,"s":-0.058,"j":4,"c":0.95},{"r":4,"s":-0.053,"j":0,"c":0.85},{"r":4,"s":-0.048,"j":0,"c":0.85},{"r":4,"s":-0.045,"j":-8,"c":0.95},{"r":4,"s":-0.044,"j":8,"c":1},{"r":4,"s":-0.043,"j":-15,"c":1},{"r":4,"s":-0.043,"j":15,"c":0.9},{"r":4,"s":-0.034,"j":-3,"c":0.9},{"r":4,"s":-0.033,"j":3,"c":0.85},{"r":4,"s":-0.029,"j":0,"c":0.9},{"r":4,"s":-0.026,"j":0,"c":0.85},{"r":4,"s":-0.017,"j":0,"c":0.7},{"r":4,"s":-0.014,"j":0,"c":0.7},
{"r":4,"s":0.001,"j":0,"c":0.5},{"r":4,"s":0.002,"j":-7,"c":0.3},{"r":4,"s":0.002,"j":7,"c":0.45},{"r":4,"s":0.007,"j":-12,"c":0.45},{"r":4,"s":0.007,"j":12,"c":0.4},{"r":4,"s":0.008,"j":0,"c":0.3},{"r":4,"s":0.011,"j":-7,"c":0.4},{"r":4,"s":0.011,"j":7,"c":0.35},{"r":4,"s":0.014,"j":-12,"c":0.45},{"r":4,"s":0.014,"j":12,"c":0.45},{"r":4,"s":0.015,"j":0,"c":0.4},{"r":4,"s":0.019,"j":-6,"c":0.15},{"r":4,"s":0.019,"j":6,"c":0.4},{"r":4,"s":0.022,"j":0,"c":0.45},{"r":4,"s":0.023,"j":-14,"c":0.5},{"r":4,"s":0.023,"j":14,"c":0.5},{"r":4,"s":0.027,"j":-6,"c":0.4},{"r":4,"s":0.027,"j":6,"c":0.45},{"r":4,"s":0.031,"j":0,"c":0.45},{"r":4,"s":0.032,"j":-14,"c":0.45},{"r":4,"s":0.032,"j":14,"c":0.45},{"r":4,"s":0.034,"j":-22,"c":0.45},{"r":4,"s":0.034,"j":22,"c":0.45},{"r":4,"s":0.035,"j":-7,"c":0.45},{"r":4,"s":0.035,"j":7,"c":0.5},{"r":4,"s":0.039,"j":0,"c":0.4},{"r":4,"s":0.04,"j":-12,"c":0.4},{"r":4,"s":0.04,"j":12,"c":0.4},{"r":4,"s":0.042,"j":-6,"c":0.35},{"r":4,"s":0.042,"j":6,"c":0.4},{"r":4,"s":0.045,"j":0,"c":0.35},{"r":4,"s":0.047,"j":0,"c":0.03},{"r":4,"s":0.05,"j":-2,"c":0.05},{"r":4,"s":0.055,"j":0,"c":0.03},{"r":4,"s":0.064,"j":0,"c":0.03},
{"r":5,"s":-0.117,"j":0,"c":0.6},{"r":5,"s":-0.113,"j":0,"c":0.7},{"r":5,"s":-0.103,"j":0,"c":0.7},{"r":5,"s":-0.098,"j":0,"c":0.85},{"r":5,"s":-0.095,"j":0,"c":0.7},{"r":5,"s":-0.093,"j":0,"c":1},{"r":5,"s":-0.088,"j":0,"c":0.5},{"r":5,"s":-0.086,"j":0,"c":0.5},{"r":5,"s":-0.081,"j":0,"c":1},{"r":5,"s":-0.069,"j":0,"c":0.45},{"r":5,"s":-0.066,"j":-3,"c":0.03},{"r":5,"s":-0.064,"j":0,"c":0.85},{"r":5,"s":-0.06,"j":-2,"c":0.03},{"r":5,"s":-0.058,"j":4,"c":0.45},{"r":5,"s":-0.056,"j":0,"c":0.5},{"r":5,"s":-0.056,"j":7,"c":0.05},{"r":5,"s":-0.052,"j":0,"c":0.85},{"r":5,"s":-0.049,"j":0,"c":0.55},{"r":5,"s":-0.046,"j":0,"c":0.7},{"r":5,"s":-0.043,"j":-4,"c":1},{"r":5,"s":-0.043,"j":4,"c":1},{"r":5,"s":-0.042,"j":-10,"c":1},{"r":5,"s":-0.042,"j":10,"c":0.95},{"r":5,"s":-0.039,"j":0,"c":0.85},{"r":5,"s":-0.032,"j":-3,"c":0.2},{"r":5,"s":-0.031,"j":5,"c":0.3},{"r":5,"s":-0.029,"j":0,"c":0.45},{"r":5,"s":-0.026,"j":-5,"c":0.45},{"r":5,"s":-0.025,"j":5,"c":0.5},{"r":5,"s":-0.021,"j":-3,"c":0.05},{"r":5,"s":-0.021,"j":4,"c":0.03},{"r":5,"s":-0.017,"j":0,"c":0.35},{"r":5,"s":-0.012,"j":0,"c":0.4},{"r":5,"s":-0.008,"j":0,"c":0.4},{"r":5,"s":-0.005,"j":-4,"c":0.35},{"r":5,"s":-0.004,"j":4,"c":0.35},{"r":5,"s":-0.002,"j":-8,"c":0.1},{"r":5,"s":-0.002,"j":8,"c":0.1},{"r":5,"s":0.001,"j":0,"c":0.1},{"r":5,"s":0.003,"j":-3,"c":0.15},{"r":5,"s":0.003,"j":6,"c":0.1},{"r":5,"s":0.007,"j":0,"c":0.15},
{"r":5,"s":0.019,"j":-4,"c":0.3},{"r":5,"s":0.019,"j":6,"c":0.35},{"r":5,"s":0.022,"j":0,"c":0.25},{"r":5,"s":0.024,"j":-6,"c":0.2},{"r":5,"s":0.024,"j":7,"c":0.2},{"r":5,"s":0.028,"j":0,"c":0.15},{"r":5,"s":0.03,"j":-11,"c":0.15},{"r":5,"s":0.03,"j":11,"c":0.2},{"r":5,"s":0.031,"j":-18,"c":0.15},{"r":5,"s":0.034,"j":0,"c":0.25},{"r":5,"s":0.035,"j":-7,"c":0.25},{"r":5,"s":0.035,"j":7,"c":0.25},{"r":5,"s":0.037,"j":-13,"c":0.3},{"r":5,"s":0.037,"j":13,"c":0.3},{"r":5,"s":0.04,"j":0,"c":0.3},{"r":5,"s":0.04,"j":-8,"c":0.3},{"r":5,"s":0.04,"j":8,"c":0.3},{"r":5,"s":0.041,"j":-16,"c":0.3},{"r":5,"s":0.041,"j":16,"c":0.3},{"r":5,"s":0.041,"j":-23,"c":0.3},{"r":5,"s":0.041,"j":23,"c":0.28},{"r":5,"s":0.044,"j":-7,"c":0.32},{"r":5,"s":0.044,"j":7,"c":0.32},{"r":5,"s":0.045,"j":0,"c":0.32},{"r":5,"s":0.046,"j":0,"c":0.35},
{"r":6,"s":-0.119,"j":0,"c":0.85},{"r":6,"s":-0.1,"j":0,"c":1},{"r":6,"s":-0.092,"j":0,"c":0.7},{"r":6,"s":-0.09,"j":0,"c":1},{"r":6,"s":-0.083,"j":-2,"c":0.65},{"r":6,"s":-0.082,"j":2,"c":0.7},{"r":6,"s":-0.078,"j":0,"c":0.5},{"r":6,"s":-0.071,"j":3,"c":0.05},{"r":6,"s":-0.07,"j":-2,"c":0.8},{"r":6,"s":-0.067,"j":0,"c":0.75},{"r":6,"s":-0.065,"j":-3,"c":0.05},{"r":6,"s":-0.063,"j":4,"c":0.85},{"r":6,"s":-0.059,"j":-4,"c":0.1},{"r":6,"s":-0.059,"j":5,"c":1},{"r":6,"s":-0.059,"j":10,"c":0.05},{"r":6,"s":-0.053,"j":0,"c":0.05},{"r":6,"s":-0.05,"j":0,"c":0.08},{"r":6,"s":-0.046,"j":-3,"c":1},{"r":6,"s":-0.045,"j":3,"c":0.1},{"r":6,"s":-0.041,"j":0,"c":0.05},{"r":6,"s":-0.038,"j":-12,"c":1},{"r":6,"s":-0.038,"j":-5,"c":1},{"r":6,"s":-0.038,"j":5,"c":0.95},{"r":6,"s":-0.038,"j":12,"c":1},{"r":6,"s":-0.034,"j":0,"c":0.5},{"r":6,"s":-0.032,"j":-5,"c":0.05},{"r":6,"s":-0.032,"j":6,"c":0.1},{"r":6,"s":-0.028,"j":0,"c":0.5},{"r":6,"s":-0.025,"j":-5,"c":0.5},{"r":6,"s":-0.024,"j":5,"c":0.45},{"r":6,"s":-0.02,"j":-3,"c":0.3},{"r":6,"s":-0.018,"j":2,"c":0.45},{"r":6,"s":-0.014,"j":0,"c":0.5},{"r":6,"s":-0.01,"j":0,"c":0.45},{"r":6,"s":-0.006,"j":0,"c":0.4},{"r":6,"s":-0.002,"j":-6,"c":0.1},{"r":6,"s":-0.002,"j":6,"c":0.1},{"r":6,"s":0.001,"j":0,"c":0.15},{"r":6,"s":0.003,"j":-10,"c":0.15},{"r":6,"s":0.003,"j":10,"c":0.15},{"r":6,"s":0.004,"j":-16,"c":0.12},{"r":6,"s":0.004,"j":16,"c":0.12},{"r":6,"s":0.006,"j":0,"c":0.15},{"r":6,"s":0.009,"j":-7,"c":0.2},{"r":6,"s":0.009,"j":7,"c":0.2},
{"r":6,"s":0.023,"j":-4,"c":0.15},{"r":6,"s":0.023,"j":5,"c":0.2},{"r":6,"s":0.026,"j":0,"c":0.15},{"r":6,"s":0.028,"j":-9,"c":0.15},{"r":6,"s":0.028,"j":9,"c":0.15},{"r":6,"s":0.03,"j":-16,"c":0.15},{"r":6,"s":0.03,"j":16,"c":0.2},{"r":6,"s":0.031,"j":-22,"c":0.15},{"r":6,"s":0.031,"j":0,"c":0.15},{"r":6,"s":0.032,"j":20,"c":0.2},{"r":6,"s":0.035,"j":-7,"c":0.2},{"r":6,"s":0.035,"j":7,"c":0.2},{"r":6,"s":0.041,"j":0,"c":0.35},{"r":6,"s":0.042,"j":-8,"c":0.35},{"r":6,"s":0.042,"j":8,"c":0.35},{"r":6,"s":0.042,"j":-16,"c":0.35},{"r":6,"s":0.042,"j":16,"c":0.35},{"r":6,"s":0.042,"j":-24,"c":0.35},{"r":6,"s":0.042,"j":24,"c":0.35},{"r":6,"s":0.046,"j":-5,"c":0.35},{"r":6,"s":0.046,"j":5,"c":0.35},
{"r":7,"s":-0.136,"j":0,"c":0.03},{"r":7,"s":-0.1025,"j":-2,"c":0.3},{"r":7,"s":-0.1025,"j":3,"c":0.3},{"r":7,"s":-0.0985,"j":0,"c":0.35},{"r":7,"s":-0.0855,"j":0,"c":0.15},{"r":7,"s":-0.0825,"j":0,"c":0.3},{"r":7,"s":-0.074,"j":-3,"c":0.4},{"r":7,"s":-0.073,"j":3,"c":0.4},{"r":7,"s":-0.068,"j":0,"c":0.35},{"r":7,"s":-0.065,"j":0,"c":0.35},{"r":7,"s":-0.062,"j":0,"c":0.1},{"r":7,"s":-0.06,"j":-4,"c":0.35},{"r":7,"s":-0.054,"j":0,"c":0.45},{"r":7,"s":-0.05,"j":-4,"c":0.4},{"r":7,"s":-0.05,"j":3,"c":0.1},{"r":7,"s":-0.046,"j":0,"c":0.4},{"r":7,"s":-0.042,"j":0,"c":0.3},{"r":7,"s":-0.042,"j":-6,"c":0.2},{"r":7,"s":-0.042,"j":6,"c":0.15},{"r":7,"s":-0.039,"j":-12,"c":0.3},{"r":7,"s":-0.039,"j":12,"c":0.1},{"r":7,"s":-0.037,"j":0,"c":0.35},{"r":7,"s":-0.037,"j":18,"c":0.25},{"r":7,"s":-0.035,"j":-7,"c":0.3},{"r":7,"s":-0.035,"j":7,"c":0.25},{"r":7,"s":-0.027,"j":-6,"c":0.35},{"r":7,"s":-0.027,"j":6,"c":0.3},{"r":7,"s":-0.025,"j":12,"c":0.1},{"r":7,"s":-0.024,"j":0,"c":0.35},{"r":7,"s":-0.02,"j":-5,"c":0.35},{"r":7,"s":-0.02,"j":5,"c":0.4},{"r":7,"s":-0.015,"j":0,"c":0.4},{"r":7,"s":-0.011,"j":-3,"c":0.45},{"r":7,"s":-0.011,"j":4,"c":0.45},{"r":7,"s":-0.006,"j":0,"c":0.55},{"r":7,"s":-0.003,"j":-8,"c":0.55},{"r":7,"s":-0.003,"j":8,"c":0.55},{"r":7,"s":0,"j":-13,"c":0.55},{"r":7,"s":0,"j":13,"c":0.55},{"r":7,"s":0.002,"j":0,"c":0.6},{"r":7,"s":0.003,"j":-20,"c":0.6},{"r":7,"s":0.003,"j":20,"c":0.5},{"r":7,"s":0.003,"j":-8,"c":0.5},{"r":7,"s":0.003,"j":8,"c":0.6},{"r":7,"s":0.003,"j":28,"c":0.45},{"r":7,"s":0.008,"j":0,"c":0.55},{"r":7,"s":0.01,"j":-10,"c":0.55},{"r":7,"s":0.01,"j":10,"c":0.6},{"r":7,"s":0.014,"j":0,"c":0.6},{"r":7,"s":0.016,"j":-6,"c":0.55},{"r":7,"s":0.016,"j":6,"c":0.55},
{"r":7,"s":0.019,"j":0,"c":0.85},{"r":7,"s":0.023,"j":0,"c":0.8},{"r":7,"s":0.023,"j":-9,"c":0.75},{"r":7,"s":0.023,"j":9,"c":0.85},{"r":7,"s":0.023,"j":-17,"c":0.7},{"r":7,"s":0.023,"j":17,"c":0.85},{"r":7,"s":0.028,"j":-5,"c":0.9},{"r":7,"s":0.028,"j":5,"c":0.85},{"r":7,"s":0.03,"j":-13,"c":1},{"r":7,"s":0.03,"j":13,"c":0.95},{"r":7,"s":0.033,"j":0,"c":0.95},{"r":7,"s":0.035,"j":-10,"c":0.85},{"r":7,"s":0.035,"j":10,"c":0.9},{"r":7,"s":0.04,"j":0,"c":0.8},{"r":7,"s":0.043,"j":-4,"c":0.75},{"r":7,"s":0.043,"j":4,"c":0.85},{"r":7,"s":0.047,"j":-8,"c":0.9},{"r":7,"s":0.047,"j":8,"c":0.85},{"r":7,"s":0.048,"j":-15,"c":1},{"r":7,"s":0.048,"j":15,"c":0.85},{"r":7,"s":0.052,"j":-6,"c":0.85},{"r":7,"s":0.052,"j":6,"c":0.8},{"r":7,"s":0.055,"j":0,"c":0.95},{"r":7,"s":0.058,"j":0,"c":1},
{"r":8,"s":-0.0977,"j":0,"c":0.75},{"r":8,"s":-0.09,"j":0,"c":0.75},{"r":8,"s":-0.088,"j":0,"c":0.75},{"r":8,"s":-0.083,"j":0,"c":0.8},{"r":8,"s":-0.081,"j":0,"c":0.75},{"r":8,"s":-0.075,"j":0,"c":0.75},{"r":8,"s":-0.073,"j":0,"c":0.75},{"r":8,"s":-0.07,"j":0,"c":0.7},{"r":8,"s":-0.0615,"j":-4,"c":1},{"r":8,"s":-0.0615,"j":4,"c":0.95},{"r":8,"s":-0.055,"j":-5,"c":0.7},{"r":8,"s":-0.055,"j":5,"c":0.7},{"r":8,"s":-0.053,"j":0,"c":0.75},{"r":8,"s":-0.0376,"j":-8,"c":1},{"r":8,"s":-0.0376,"j":0,"c":1},{"r":8,"s":-0.0376,"j":8,"c":0.95},{"r":8,"s":-0.031,"j":-6,"c":0.95},{"r":8,"s":-0.031,"j":6,"c":1},{"r":8,"s":-0.026,"j":0,"c":0.6},{"r":8,"s":-0.02,"j":0,"c":0.5},{"r":8,"s":-0.02,"j":6,"c":0.55},{"r":8,"s":-0.016,"j":-4,"c":0.5},{"r":8,"s":-0.016,"j":4,"c":0.5},{"r":8,"s":-0.012,"j":-7,"c":0.45},{"r":8,"s":-0.012,"j":7,"c":0.55},{"r":8,"s":-0.009,"j":0,"c":0.5},{"r":8,"s":-0.005,"j":-4,"c":0.45},{"r":8,"s":-0.005,"j":4,"c":0.5},{"r":8,"s":0,"j":-8,"c":0.05},{"r":8,"s":0,"j":0,"c":0.05},{"r":8,"s":0,"j":8,"c":0.2},{"r":8,"s":0.004,"j":-12,"c":0.1},{"r":8,"s":0.005,"j":4,"c":0.3},{"r":8,"s":0.006,"j":13,"c":0.35},{"r":8,"s":0.009,"j":-5,"c":0.4},{"r":8,"s":0.01,"j":8,"c":0.1},{"r":8,"s":0.013,"j":0,"c":0.35},{"r":8,"s":0.016,"j":-8,"c":0.4},{"r":8,"s":0.016,"j":8,"c":0.35},{"r":8,"s":0.019,"j":0,"c":0.45},{"r":8,"s":0.023,"j":-6,"c":0.4},{"r":8,"s":0.023,"j":6,"c":0.35},{"r":8,"s":0.024,"j":14,"c":0.15},{"r":8,"s":0.028,"j":0,"c":0.35},{"r":8,"s":0.031,"j":-10,"c":0.35},{"r":8,"s":0.031,"j":10,"c":0.4},{"r":8,"s":0.035,"j":0,"c":0.4},{"r":8,"s":0.035,"j":-7,"c":0.4},{"r":8,"s":0.035,"j":7,"c":0.45},{"r":8,"s":0.035,"j":-14,"c":0.4},{"r":8,"s":0.035,"j":14,"c":0.4},{"r":8,"s":0.035,"j":-22,"c":0.4},{"r":8,"s":0.035,"j":22,"c":0.4},{"r":8,"s":0.04,"j":0,"c":0.35},{"r":8,"s":0.041,"j":-8,"c":0.4},{"r":8,"s":0.041,"j":8,"c":0.4},{"r":8,"s":0.045,"j":-4,"c":0.35},{"r":8,"s":0.045,"j":4,"c":0.35},{"r":8,"s":0.047,"j":0,"c":0.4},
{"r":9,"s":-0.0696,"j":0,"c":0.85},{"r":9,"s":-0.06,"j":0,"c":0.95},{"r":9,"s":-0.056,"j":4,"c":0.9},{"r":9,"s":-0.055,"j":-4,"c":1},{"r":9,"s":-0.051,"j":0,"c":0.85},{"r":9,"s":-0.047,"j":-3,"c":0.8},{"r":9,"s":-0.047,"j":4,"c":1},{"r":9,"s":-0.042,"j":0,"c":0.65},{"r":9,"s":-0.04,"j":-5,"c":0.8},{"r":9,"s":-0.04,"j":5,"c":0.75},{"r":9,"s":-0.037,"j":0,"c":0.9},{"r":9,"s":-0.037,"j":-10,"c":0.8},{"r":9,"s":-0.037,"j":10,"c":0.85},{"r":9,"s":-0.037,"j":-19,"c":0.75},{"r":9,"s":-0.037,"j":19,"c":0.8},{"r":9,"s":-0.033,"j":-5,"c":1},{"r":9,"s":-0.033,"j":5,"c":0.9},{"r":9,"s":-0.029,"j":-8,"c":0.5},{"r":9,"s":-0.029,"j":0,"c":0.55},{"r":9,"s":-0.029,"j":8,"c":0.5},{"r":9,"s":-0.025,"j":0,"c":0.55},{"r":9,"s":-0.021,"j":0,"c":0.55},{"r":9,"s":-0.017,"j":-3,"c":0.6},{"r":9,"s":-0.016,"j":3,"c":0.55},{"r":9,"s":-0.012,"j":0,"c":0.55},{"r":9,"s":-0.008,"j":-2,"c":0.55},{"r":9,"s":-0.005,"j":0,"c":0.5},{"r":9,"s":-0.002,"j":-5,"c":0.45},{"r":9,"s":-0.002,"j":5,"c":0.45},{"r":9,"s":0.002,"j":0,"c":0.4},{"r":9,"s":0.005,"j":-8,"c":0.35},{"r":9,"s":0.005,"j":8,"c":0.4},{"r":9,"s":0.006,"j":16,"c":0.35},{"r":9,"s":0.006,"j":-14,"c":0.3},{"r":9,"s":0.01,"j":0,"c":0.3},{"r":9,"s":0.012,"j":-7,"c":0.35},{"r":9,"s":0.012,"j":7,"c":0.3},{"r":9,"s":0.016,"j":0,"c":0.3},{"r":9,"s":0.019,"j":-14,"c":0.3},{"r":9,"s":0.019,"j":14,"c":0.4},{"r":9,"s":0.021,"j":-6,"c":0.35},{"r":9,"s":0.021,"j":6,"c":0.4},{"r":9,"s":0.022,"j":-22,"c":0.4},{"r":9,"s":0.022,"j":22,"c":0.45},{"r":9,"s":0.022,"j":-27,"c":0.4},{"r":9,"s":0.023,"j":28,"c":0.45},{"r":9,"s":0.025,"j":0,"c":0.45},{"r":9,"s":0.026,"j":-14,"c":0.45},{"r":9,"s":0.026,"j":14,"c":0.45},{"r":9,"s":0.03,"j":-6,"c":0.35},{"r":9,"s":0.03,"j":6,"c":0.3},{"r":9,"s":0.032,"j":-20,"c":0.3},{"r":9,"s":0.037,"j":-8,"c":0.1},{"r":9,"s":0.037,"j":8,"c":0.1},{"r":9,"s":0.039,"j":0,"c":0.08},{"r":9,"s":0.041,"j":0,"c":0.15},{"r":9,"s":0.045,"j":0,"c":0.03},{"r":9,"s":0.0585,"j":-2,"c":0.3},{"r":9,"s":0.0585,"j":2,"c":0.3}
]},
"transform":[{"lookup":"r","from":{"data":{"values":[{"r":0,"f":"Actual/Expected Peak VO2"},{"r":1,"f":"Actual - Expected Peak VO2"},{"r":2,"f":"Session's 85 to 15% VE Slope"},{"r":3,"f":"Last quarter RER slope"},{"r":4,"f":"Session's last quarter HR slope"},{"r":5,"f":"Mean minute ventilation"},{"r":6,"f":"Max minute ventilation"},{"r":7,"f":"Session's first half VE/VCO2 slope"},{"r":8,"f":"Session's last quarter VO2 slope"},{"r":9,"f":"Second half Respiratory Rate slope"}]},"key":"r","fields":["f"]}}],
"mark":{"type":"circle","size":85,"opacity":1},
"encoding":{"x":{"field":"s","type":"quantitative"},"y":{"field":"f","type":"nominal","sort":null},"yOffset":{"field":"j","type":"quantitative","scale":{"domain":[-32.1,32.1]}},"color":{"field":"c","type":"quantitative","scale":{"scheme":"viridis","domain":[0,1]},"legend":{"orient":"none","legendX":705,"legendY":0,"direction":"vertical","title":null,"gradientLength":705,"gradientThickness":9,"values":[0,1],"labelExpr":"''","gradientStrokeWidth":0}}}},
{"data":{"values":[{"f":"Actual/Expected Peak VO2","s":0.0618,"k":"up"},{"f":"Actual - Expected Peak VO2","s":0.058,"k":"up"},{"f":"Session's 85 to 15% VE Slope","s":0.044,"k":"up"},{"f":"Last quarter RER slope","s":0.056,"k":"up"},{"f":"Session's last quarter HR slope","s":-0.04,"k":"down"},{"f":"Mean minute ventilation","s":0.0139,"k":"up"},{"f":"Max minute ventilation","s":0.0168,"k":"up"},{"f":"Session's first half VE/VCO2 slope","s":-0.0305,"k":"down"},{"f":"Session's last quarter VO2 slope","s":-0.0457,"k":"down"},{"f":"Second half Respiratory Rate slope","s":0.032,"k":"up"}]},
"mark":{"type":"point","filled":true,"opacity":1,"size":676,"shape":"M-0.8,0A0.8,1 0 1,0 0.8,0A0.8,1 0 1,0 -0.8,0Z"},
"encoding":{"x":{"field":"s","type":"quantitative"},"y":{"field":"f","type":"nominal","sort":null},"color":{"field":"k","type":"nominal","scale":{"domain":["up","down"],"range":["#ff0000","#0000ff"]},"legend":null}}},
{"data":{"values":[{"t":"Feature value"}]},"mark":{"type":"text","angle":270,"font":"DejaVu Sans","fontSize":28,"color":"#333333"},"encoding":{"x":{"datum":0.1495},"y":{"value":355},"text":{"field":"t"}}},
{"data":{"values":[{"t":"High"}]},"mark":{"type":"text","align":"left","baseline":"middle","font":"DejaVu Sans Condensed","fontSize":23,"color":"#333333"},"encoding":{"x":{"datum":0.1211},"y":{"value":2},"text":{"field":"t"}}},
{"data":{"values":[{"t":"Low"}]},"mark":{"type":"text","align":"left","baseline":"middle","font":"DejaVu Sans Condensed","fontSize":23,"color":"#333333"},"encoding":{"x":{"datum":0.1211},"y":{"value":707},"text":{"field":"t"}}}
],"resolve":{"scale":{"color":"independent"}}}
]}
]}
